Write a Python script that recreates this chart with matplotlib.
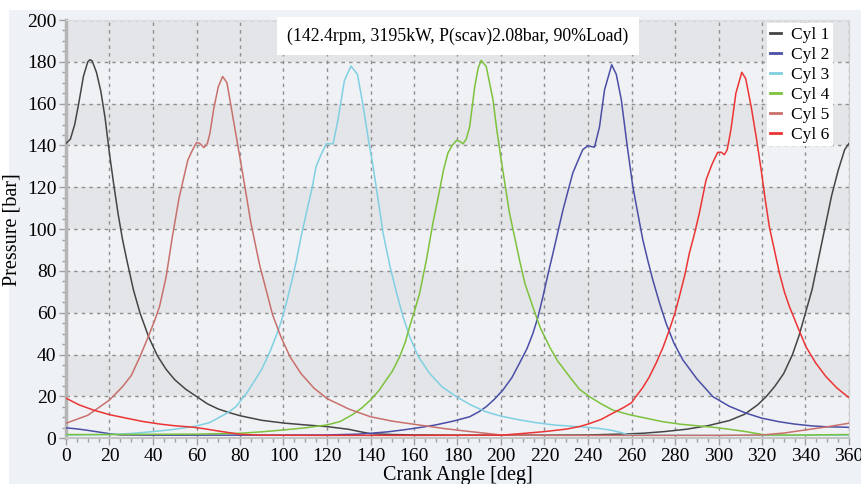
import matplotlib
matplotlib.use("Agg")
import matplotlib.pyplot as plt
from matplotlib.patches import Rectangle

plt.rcParams['font.family'] = ['Liberation Serif', 'DejaVu Serif']

# crank angle [deg] / pressure [bar], one pair per cylinder
cyl1_ang = [0, 2, 4, 6, 8, 10, 11, 12, 14, 16, 18, 20, 22, 24, 26, 28, 31, 34, 38, 42, 46, 50, 55, 60, 65,
            70, 75, 80, 90, 100, 110, 120, 130, 135, 140, 150, 160, 180, 200, 220, 240, 255, 265, 275, 285,
            295, 305, 312, 318, 322, 326, 330, 334, 337, 340, 343, 346, 349, 352, 355, 358, 360]
cyl1_p = [141, 143, 150, 161, 173, 180, 181, 180.5, 175, 166, 153, 136, 121, 107, 95, 85, 71, 60, 48.5, 39.5, 33,
          28, 23.5, 20, 16.5, 14, 12.3, 10.8, 8.6, 7.3, 6.4, 5.6, 4.3, 3.2, 2.2, 1.8, 1.6, 1.5, 1.5, 1.5,
          1.6, 2, 2.4, 3.2, 4.3, 6, 8.5, 11.5, 16, 20, 25, 31, 40, 49, 60, 71, 86, 101, 116, 128, 138, 141]

cyl2_ang = [0, 5, 10, 15, 20, 25, 40, 80, 120, 135, 140, 148, 155, 163, 170, 178, 185.6, 190, 193.2, 197,
            200.9, 205, 208.5, 212, 214.7, 217, 219.3, 221.5, 223.9, 226, 228.5, 231, 233, 235.5, 237.6,
            239.9, 241.5, 243, 245.3, 247.6, 250.9, 253, 255.3, 258, 260.6, 263, 265.2, 267.5, 269.8, 272.8,
            275.9, 279.5, 283.6, 290, 297.4, 305, 312.7, 320, 328, 335, 343.2, 350, 358.5, 360]
cyl2_p = [5, 4.5, 3.8, 3, 2.2, 1.6, 1.5, 1.5, 1.6, 2, 2.4, 3.1, 4, 5.2, 6.4, 8.2, 10.3, 12.8, 15.1, 18.7,
          23.1, 29, 35.9, 43, 50.2, 58, 67.8, 78, 88.5, 98, 109.2, 119, 126.8, 133, 138,
          139.9, 139.5, 139.2, 149, 166.6, 178.6, 174, 162, 140, 120.4, 107, 94.9, 85, 75.7, 65,
          55, 45.5, 37.5, 28.5, 19.9, 15.3, 12, 9.6, 7.9, 6.8, 5.9, 5.5, 5.3, 5.2]

cyl3_ang = [0, 20, 30, 40, 50, 60, 66, 74, 78, 83, 87, 90, 94, 97, 99, 101.3, 104, 106, 108, 110.5, 113, 115,
            117, 119.7, 122.8, 125, 128, 131, 134, 136.6, 139, 141.2, 143.5, 145.8, 149, 152, 155, 158, 162,
            167.2, 173, 179.5, 186, 193, 200, 208.5, 216, 224, 232, 239, 245, 250, 255, 258, 270, 300, 330, 360]
cyl3_p = [1.5, 1.8, 2.3, 3.2, 4.3, 5.9, 7.5, 12, 15, 21.5, 28, 33, 42, 50, 56, 64.6, 76, 85.3, 96, 107.7, 119,
          130, 135, 140.8, 140.8, 152, 171, 178, 174, 159, 143, 130, 114, 98, 82, 69.4, 58, 48.6, 39,
          31, 24.5, 19.9, 16, 12.7, 10.6, 8.8, 7.5, 6.4, 5.8, 5.3, 4.7, 4, 2.8, 1.8, 1.5, 1.4, 1.4, 1.5]

cyl4_ang = [0, 20, 40, 60, 80, 90, 100, 110, 120, 126, 132, 136, 140, 144, 147.3, 150, 153.4, 156, 158, 160,
            162.6, 165.7, 168.7, 171.8, 173.5, 175.6, 177.5, 179.5, 181, 182.5, 184, 185.6, 187.9, 189.5,
            190.9, 193.2, 196.3, 198, 200.1, 203.9, 208.5, 211, 214.6, 218, 222.3, 226, 231.5, 236, 240.7,
            246, 251.4, 259, 266.7, 274, 282, 290, 297.3, 305, 312.6, 318, 322, 340, 360]
cyl4_p = [1.8, 1.8, 1.9, 2, 2.4, 3.1, 4, 5, 6.4, 8, 11.5, 14.5, 18.3, 23, 28, 32, 39, 46, 53.4, 60,
          69.4, 85.3, 102.9, 118.8, 128, 136.4, 140, 142.4, 142, 140.8, 143, 149, 168, 177,
          180.7, 177.8, 162, 148, 133, 107.7, 85.3, 74, 63, 53, 43.8, 37, 29.5, 23.5, 19.9,
          16.5, 13.5, 11.3, 9.6, 8, 6.8, 6, 5.3, 4.3, 3.2, 2.2, 1.6, 1.6, 1.8]

cyl5_ang = [0, 10, 20, 26, 30, 34, 38, 41, 43, 46, 49, 52, 56, 58, 60, 61.5, 63.4, 65, 66.2, 68, 70, 72, 74,
            77, 81, 85, 89, 92, 95, 99, 103, 108, 114, 120, 130, 140, 150, 162, 175, 186, 200, 220, 260,
            300, 320, 330, 340, 350, 360]
cyl5_p = [7.2, 11, 18.3, 24.7, 30, 39, 49, 57, 63, 77, 97, 115, 133, 137.5, 141.4, 141, 139, 141, 146, 158,
          168, 173, 170, 152, 128, 103, 83, 71, 59, 48, 39, 31, 24, 19, 14, 10.3, 8.2, 6.4, 4.5, 3.2, 1.6,
          1.4, 1.4, 1.4, 1.6, 2.5, 4, 5.5, 7.2]

cyl6_ang = [0, 6, 12.6, 20, 27.9, 35, 43.2, 50, 58.5, 64, 69.3, 75, 80, 90, 120, 160, 200, 210, 220, 230, 236,
            240, 246, 251.4, 256, 260, 262, 265, 268, 271.3, 274.5, 277.4, 280, 282, 284.5, 286.6, 289, 291.2,
            294.3, 297, 299.6, 301.2, 302.7, 304, 305.7, 308, 310.7, 312.5, 315, 317.5, 319.6, 321.5, 323.4,
            325.7, 328, 330.3, 332.6, 336.5, 340.2, 344.7, 349.4, 354.5, 359.4, 360]
cyl6_p = [19.2, 16, 13.5, 11.3, 9.6, 8.1, 6.8, 6, 5.3, 4.5, 3.6, 2.7, 1.9, 1.5, 1.4, 1.4, 1.5, 2.3, 3.2, 4.4,
          5.6, 6.8, 9, 12, 14.5, 17, 19.9, 24, 29, 35.9, 43.5, 51.8, 60, 67.8, 78, 88.5, 98, 107.7,
          123.6, 131, 136.7, 136.8, 135.6, 138, 147.5, 165, 175, 172, 158.7, 143, 128.4, 114, 101,
          90, 79, 70, 63, 53, 43.8, 36, 29.5, 24, 19.9, 19.5]

labels = ['Cyl 1', 'Cyl 2', 'Cyl 3', 'Cyl 4', 'Cyl 5', 'Cyl 6']
colors = ['#454545', '#4a4ea6', '#7fd0e2', '#7cc23c', '#c8706b', '#ec3434']
info = '(142.4rpm, 3195kW, P(scav)2.08bar, 90%Load)'

curves = [(cyl1_ang, cyl1_p), (cyl2_ang, cyl2_p), (cyl3_ang, cyl3_p),
          (cyl4_ang, cyl4_p), (cyl5_ang, cyl5_p), (cyl6_ang, cyl6_p)]

W, H = 862, 484
fig = plt.figure(figsize=(W / 100, H / 100), dpi=100, facecolor='white')
fig.patches.append(Rectangle((9 / W, 0), 1 - 9 / W, 1 - 10 / H, transform=fig.transFigure,
                             facecolor='#eef1f5', edgecolor='none', zorder=-10))

ax = fig.add_axes([66 / W, 1 - 438.3 / H, 783 / W, 418.3 / H])
ax.set_facecolor('#eff1f5')
for lo in range(20, 200, 40):
    ax.axhspan(lo, lo + 20, color='#e4e5e8', zorder=0, lw=0)

for (a, p), lab, c in zip(curves, labels, colors):
    ax.plot(a, p, color=c, lw=1.1, label=lab, zorder=3, solid_joinstyle='round')

ax.set_xlim(0, 360)
ax.set_ylim(0, 200)
ax.set_xticks(range(0, 361, 20))
ax.set_yticks(range(0, 201, 20))
ax.set_xticks(range(0, 361, 5), minor=True)
ax.set_yticks(range(0, 201, 5), minor=True)
ax.grid(True, which='major', color='#8f8f8f', linestyle=(0, (2.5, 3)), lw=1, zorder=1)
ax.set_axisbelow(True)
ax.tick_params(which='both', colors='#a0a0a0', labelcolor='black', labelsize=14, width=1)
ax.tick_params(which='major', length=5)
ax.tick_params(which='minor', length=3)
ax.tick_params(axis='x', pad=2)
ax.tick_params(axis='y', pad=2)

ax.spines['left'].set_color('#b5b5b5')
ax.spines['left'].set_linewidth(2.5)
ax.spines['bottom'].set_color('#c5c5c5')
ax.spines['bottom'].set_linewidth(1.5)
ax.spines['right'].set_color('#d0d0d0')
ax.spines['top'].set_color('#dcdcdc')

ax.set_xlabel('Crank Angle [deg]', fontsize=14.5, labelpad=1)
ax.set_ylabel('Pressure [bar]', fontsize=14.5, labelpad=4)

ax.text(0.5006, 0.962, info, transform=ax.transAxes, ha='center', va='center', fontsize=12.8,
        bbox=dict(facecolor='white', edgecolor='none', boxstyle='square,pad=0.6'), zorder=5)

leg = ax.legend(loc='upper right', bbox_to_anchor=(0.984, 1.0), fontsize=12.5, frameon=True,
                fancybox=False, facecolor='white', edgecolor='none', framealpha=1,
                handlelength=0.6, handletextpad=0.6, labelspacing=0.22, borderpad=0.2,
                borderaxespad=0.2)
for line in leg.get_lines():
    line.set_linewidth(2)

fig.savefig('out.png', dpi=100, facecolor=fig.get_facecolor())
